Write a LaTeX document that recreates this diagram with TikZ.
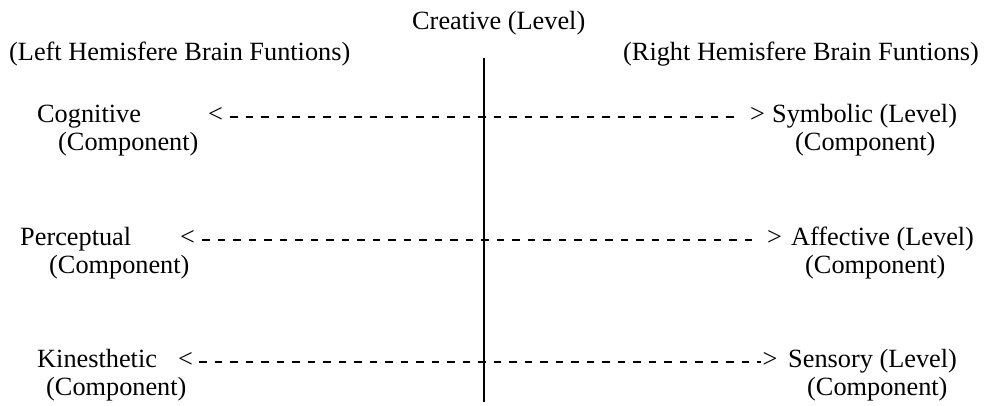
\documentclass[tikz,border=0pt]{standalone}
\usepackage{fontspec}
\setmainfont{Liberation Serif}

\begin{document}
\begin{tikzpicture}[x=1pt, y=-1pt,
  lbl/.style={anchor=base west, inner sep=0pt, font=\fontsize{26.3}{30}\selectfont},
  sign/.style={anchor=base, inner sep=0pt, inner xsep=7pt, text height=10pt, text depth=0pt, font=\fontsize{26.3}{30}\selectfont},
  link/.style={line width=1.9pt, line cap=butt, dash pattern=on 7.5pt off 8pt}]
\useasboundingbox (0,0) rectangle (987,405);
% headings
\node  (creative)[lbl] at (412,29) {Creative (Level)};
\node  (lefthemi)[lbl] at (9,60) {(Left Hemisfere Brain Funtions)};
\node  (righthemi)[lbl] at (623,60) {(Right Hemisfere Brain Funtions)};
% divider
\coordinate (top) at (484,58);
\coordinate (bottom) at (484,402);
\draw[line width=2pt] (top) -- (bottom);
% left column
\node  (cog)[lbl] at (37,122) {Cognitive};
\node  (cogc)[lbl] at (58,150.5) {(Component)};
\node  (per)[lbl] at (20,245) {Perceptual};
\node  (perc)[lbl] at (49,273.5) {(Component)};
\node  (kin)[lbl] at (37,367) {Kinesthetic};
\node  (kinc)[lbl] at (46,395.5) {(Component)};
% right column
\node  (sym)[lbl] at (772,122) {Symbolic (Level)};
\node  (symc)[lbl] at (795,150.5) {(Component)};
\node  (aff)[lbl] at (791,245) {Affective (Level)};
\node  (affc)[lbl] at (805,273.5) {(Component)};
\node  (sen)[lbl] at (788,367) {Sensory (Level)};
\node  (senc)[lbl] at (807,395.5) {(Component)};
% arrow signs
\node  (cogL)[sign] at (215.5,122) {<};
\node  (symR)[sign] at (757.5,122) {>};
\node  (perL)[sign] at (187.5,245) {<};
\node  (affR)[sign] at (774.5,245) {>};
\node  (kinL)[sign] at (185.5,367) {<};
\node  (senR)[sign] at (770,367) {>};
% dashed links
\draw[link, shorten >=3.5pt] (cogL) -- (symR);
\draw[link, shorten >=7.5pt] (perL) -- (affR);
\draw[link, shorten <=-1pt, shorten >=-6pt] (kinL) -- (senR);
\end{tikzpicture}
\end{document}
